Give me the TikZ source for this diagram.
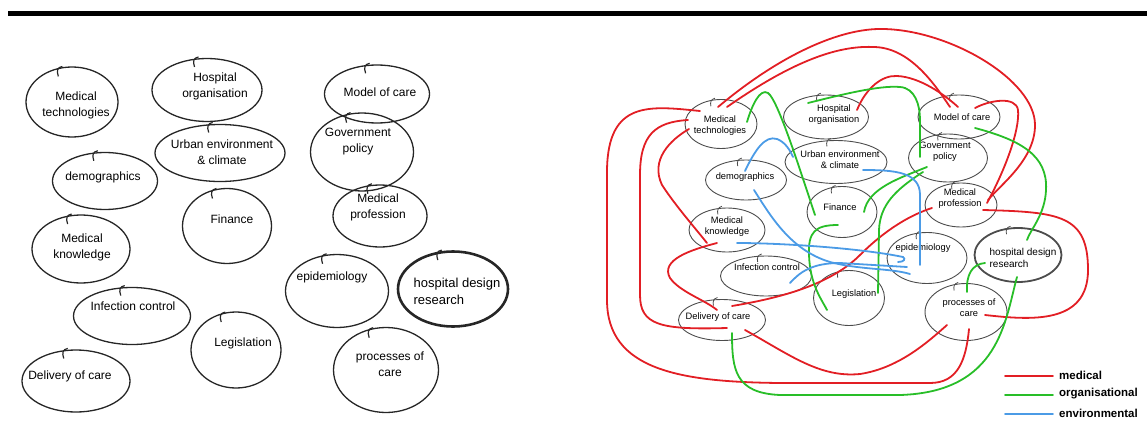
\documentclass[tikz,border=0pt]{standalone}
\usepackage{fontspec}
\setmainfont{Liberation Sans}
\usetikzlibrary{shapes.geometric,calc}

\definecolor{linkred}{RGB}{226,30,36}
\definecolor{linkgreen}{RGB}{40,190,40}
\definecolor{linkblue}{RGB}{75,155,230}

\tikzset{
  lring/.style={ellipse,draw=black!85,line width=1.3pt,inner sep=0pt},
  rring/.style={ellipse,draw=black!70,line width=0.9pt,inner sep=0pt},
  ltext/.style={align=center,inner sep=0pt,font=\fontsize{12}{16}\selectfont},
  rtext/.style={align=center,inner sep=0pt,font=\fontsize{9.3}{11}\selectfont},
  legtext/.style={anchor=west,inner sep=0pt,font=\bfseries\fontsize{11.5}{13}\selectfont},
  medical/.style={draw=linkred,line width=1.8pt,line cap=round},
  organisational/.style={draw=linkgreen,line width=1.8pt,line cap=round},
  environmental/.style={draw=linkblue,line width=1.8pt,line cap=round}
}

\begin{document}
\begin{tikzpicture}[x=1pt,y=-1pt]
\useasboundingbox (0,0) rectangle (1147,441);
\fill[black] (8,11) rectangle (1147,16);

% hand drawn ideas
\node[lring,minimum width=92,minimum height=70] (lmt) at (72,102) {};
\node[lring,minimum width=110,minimum height=63] (lho) at (207,90) {};
\node[lring,minimum width=105,minimum height=58] (lmoc) at (377,94) {};
\node[lring,minimum width=130,minimum height=57] (luec) at (220,153) {};
\node[lring,minimum width=103,minimum height=78] (lgp) at (362,152) {};
\node[lring,minimum width=105,minimum height=57] (ldem) at (105,181) {};
\node[lring,minimum width=89,minimum height=75] (lfin) at (227,226) {};
\node[lring,minimum width=94,minimum height=62] (lmp) at (380,216) {};
\node[lring,minimum width=98,minimum height=68] (lmk) at (81,249) {};
\node[lring,minimum width=103,minimum height=73] (lepi) at (337,291) {};
\node[lring,line width=2.6pt,minimum width=110,minimum height=75] (lhdr) at (453,289) {};
\node[lring,minimum width=117,minimum height=57] (lic) at (132,316) {};
\node[lring,minimum width=90,minimum height=76] (lleg) at (236,350) {};
\node[lring,minimum width=105,minimum height=85] (lpoc) at (386,370) {};
\node[lring,minimum width=108,minimum height=62] (ldlv) at (76,381) {};
\foreach \n in {lmt,lho,lmoc,luec,lgp,ldem,lfin,lmp,lmk,lepi,lhdr,lic,lleg,lpoc,ldlv}
  \draw[black!85,line width=1.2pt] ($(\n.115)+(2,8)$) .. controls +(-2,-6) and +(-5,1) .. ($(\n.115)+(6,-2)$);

\node[ltext] (lmt-t) at (76,105) {Medical\\technologies};
\node[ltext] (lho-t) at (215,86) {Hospital\\organisation};
\node[ltext] (lmoc-t) at (380,92) {Model of care};
\node[ltext] (luec-t) at (222,152) {Urban environment\\\& climate};
\node[ltext] (lgp-t) at (358,142) {Government\\policy};
\node[ltext] (ldem-t) at (103,177) {demographics};
\node[ltext] (lfin-t) at (232,219) {Finance};
\node[ltext] (lmp-t) at (378,207) {Medical\\profession};
\node[ltext] (lmk-t) at (82,247) {Medical\\knowledge};
\node[ltext] (lepi-t) at (332,277) {epidemiology};
\node[ltext,align=left,font=\fontsize{13}{17}\selectfont] (lhdr-t) at (457,291) {hospital design\\research};
\node[ltext] (lic-t) at (133,306) {Infection control};
\node[ltext] (lleg-t) at (243,343) {Legislation};
\node[ltext] (lpoc-t) at (390,364) {processes of\\care};
\node[ltext] (ldlv-t) at (70,376) {Delivery of care};

% linked ideas
\node[rring,minimum width=72,minimum height=49] (mt) at (721,124) {};
\node[rring,minimum width=85,minimum height=44] (ho) at (826,117) {};
\node[rring,minimum width=82,minimum height=44] (moc) at (959,117) {};
\node[rring,minimum width=102,minimum height=43] (uec) at (836,162) {};
\node[rring,minimum width=79,minimum height=48] (gp) at (948,158) {};
\node[rring,minimum width=81,minimum height=40] (dem) at (746,180) {};
\node[rring,minimum width=70,minimum height=51] (fin) at (842,212) {};
\node[rring,minimum width=72,minimum height=44] (mp) at (961,205) {};
\node[rring,minimum width=76,minimum height=44] (mk) at (727,230) {};
\node[rring,minimum width=80,minimum height=51] (epi) at (927,258) {};
\node[rring,line width=1.8pt,minimum width=87,minimum height=54] (hdr) at (1018,255) {};
\node[rring,minimum width=91,minimum height=40] (ic) at (766,276) {};
\node[rring,minimum width=71,minimum height=55] (leg) at (849,298) {};
\node[rring,minimum width=82,minimum height=57] (poc) at (966,312) {};
\node[rring,minimum width=87,minimum height=41] (dlv) at (722,320) {};
\foreach \n in {mt,ho,moc,uec,gp,dem,fin,mp,mk,epi,hdr,ic,leg,poc,dlv}
  \draw[black!70,line width=0.8pt] ($(\n.115)+(1,6)$) .. controls +(-1,-4) and +(-4,1) .. ($(\n.115)+(5,-2)$);

\node[rtext] (mt-t) at (720,126) {Medical\\technologies};
\node[rtext] (ho-t) at (834,115) {Hospital\\organisation};
\node[rtext] (moc-t) at (962,117) {Model of care};
\node[rtext] (uec-t) at (840,160) {Urban environment\\\& climate};
\node[rtext] (gp-t) at (945,152) {Government\\policy};
\node[rtext] (dem-t) at (745,177) {demographics};
\node[rtext] (fin-t) at (840,207) {Finance};
\node[rtext] (mp-t) at (960,199) {Medical\\profession};
\node[rtext] (mk-t) at (727,227) {Medical\\knowledge};
\node[rtext] (epi-t) at (923,248) {epidemiology};
\node[rtext,align=left,font=\fontsize{10}{11.5}\selectfont] (hdr-t) at (1023,258) {hospital design\\research};
\node[rtext] (ic-t) at (767,267) {Infection control};
\node[rtext] (leg-t) at (854,294) {Legislation};
\node[rtext] (poc-t) at (969,308) {processes of\\care};
\node[rtext] (dlv-t) at (718,317) {Delivery of care};

% medical
\draw[medical] ($(mt)+(-21,-13)$) .. controls (650,106) and (608,100) .. (607,170) -- (607,300)
  .. controls (607,370) and (680,382) .. (780,383) -- (930,383) .. controls (958,383) and (966,360) .. ($(poc)+(3,17)$);
\draw[medical] ($(mt)+(-33,-4)$) .. controls (655,122) and (640,135) .. (640,175) -- (640,295)
  .. controls (640,325) and (660,330) .. ($(dlv)+(5,8)$);
\draw[medical] ($(mt)+(-32,5)$) .. controls (670,140) and (650,160) .. (662,185)
  .. controls (675,205) and (695,228) .. ($(mk)+(-20,13)$);
\draw[medical] ($(mk)+(-10,13)$) .. controls (690,250) and (660,260) .. (670,278)
  .. controls (680,292) and (705,300) .. ($(dlv)+(-5,-10)$);
\draw[medical] ($(dlv)+(10,-14)$) .. controls (780,298) and (830,285) .. (860,255)
  .. controls (885,230) and (910,215) .. ($(mp)+(-29,3)$);
\draw[medical] ($(dlv)+(23,10)$) .. controls (790,355) and (820,378) .. (860,374)
  .. controls (900,368) and (930,340) .. ($(poc)+(-19,13)$);
\draw[medical] ($(poc)+(19,3)$) .. controls (1030,320) and (1088,325) .. (1088,270)
  .. controls (1088,215) and (1060,212) .. ($(mp)+(22,5)$);
\draw[medical] ($(mp)+(26,-2)$) .. controls (1005,170) and (1020,130) .. (1018,110)
  .. controls (1016,96) and (990,100) .. ($(moc)+(16,-9)$);
\draw[medical] ($(mt)+(-3,-17)$) .. controls (780,55) and (840,28) .. (883,29)
  .. controls (950,30) and (1035,80) .. (1035,125) .. controls (1035,160) and (1000,185) .. ($(mp)+(27,-5)$);
\draw[medical] ($(mt)+(6,-17)$) .. controls (780,70) and (830,45) .. (873,47)
  .. controls (910,47) and (935,85) .. ($(moc)+(-9,-10)$);
\draw[medical] ($(ho)+(31,-7)$) .. controls (866,88) and (882,75) .. (897,76)
  .. controls (920,77) and (945,95) .. ($(moc)+(-1,-10)$);

% organisational
\draw[organisational] ($(mt)+(26,-2)$) .. controls (752,105) and (760,88) .. (768,93)
  .. controls (778,100) and (800,170) .. ($(fin)+(-27,3)$);
\draw[organisational] ($(ho)+(-18,-14)$) .. controls (840,95) and (880,85) .. (900,87)
  .. controls (915,88) and (920,105) .. (920,120) -- ($(gp)+(-28,-1)$);
\draw[organisational] ($(gp)+(-21,9)$) .. controls (900,178) and (868,188) .. ($(fin)+(22,0)$);
\draw[organisational] ($(gp)+(-25,14)$) .. controls (895,190) and (880,205) .. (879,230) -- ($(leg)+(29,-5)$);
\draw[organisational] ($(fin)+(-4,13)$) .. controls (815,225) and (808,232) .. (809,255)
  .. controls (810,285) and (822,300) .. ($(leg)+(-22,12)$);
\draw[organisational] ($(moc)+(16,11)$) .. controls (1020,140) and (1048,155) .. (1046,190)
  .. controls (1045,215) and (1030,230) .. ($(hdr)+(9,-15)$);
\draw[organisational] ($(hdr)+(-33,8)$) .. controls (972,264) and (966,275) .. ($(poc)+(1,-20)$);
\draw[organisational] ($(hdr)+(-1,22)$) .. controls (1005,320) and (1000,392) .. (900,395) -- (780,395)
  .. controls (735,393) and (732,370) .. ($(dlv)+(10,13)$);

% environmental
\draw[environmental] ($(dem)+(-1,-9)$) .. controls (755,150) and (765,135) .. (777,139)
  .. controls (785,142) and (790,150) .. ($(uec)+(-43,-5)$);
\draw[environmental] ($(uec)+(27,8)$) .. controls (895,170) and (920,172) .. (920,195) -- ($(epi)+(-7,7)$);
\draw[environmental] ($(dem)+(8,10)$) .. controls (770,215) and (790,250) .. (830,262)
  .. controls (860,270) and (890,268) .. ($(epi)+(-17,16)$);
\draw[environmental] ($(mk)+(10,13)$) .. controls (780,243) and (860,248) .. (903,257)
  .. controls (906,259) and (904,262) .. ($(epi)+(-29,4)$);
\draw[environmental] ($(ic)+(24,7)$) .. controls (800,272) and (812,263) .. (840,263) -- ($(epi)+(-20,9)$);

% legend
\node[legtext] (legmed) at (1059,375) {medical};
\node[legtext] (legorg) at (1059,394) {organisational};
\node[legtext] (legenv) at (1059,413) {environmental};
\draw[medical] ($(legmed.west)+(-54,1)$) -- ($(legmed.west)+(-6,1)$);
\draw[organisational] ($(legorg.west)+(-54,1)$) -- ($(legorg.west)+(-6,1)$);
\draw[environmental] ($(legenv.west)+(-54,1)$) -- ($(legenv.west)+(-6,1)$);
\end{tikzpicture}
\end{document}
